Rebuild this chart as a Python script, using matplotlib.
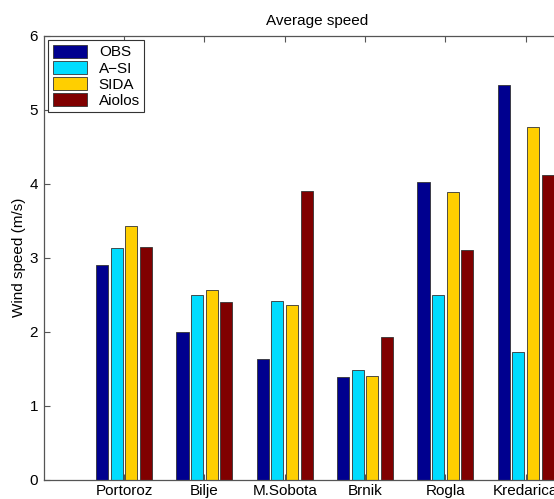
import numpy as np
import matplotlib
matplotlib.use("Agg")
import matplotlib.pyplot as plt

plt.rcParams['font.family'] = ['Liberation Sans', 'DejaVu Sans']

stations = ["Portoroz", "Bilje", "M.Sobota", "Brnik", "Rogla", "Kredarica"]
obs    = [2.90, 1.99, 1.63, 1.39, 4.02, 5.33]
a_si   = [3.13, 2.50, 2.41, 1.48, 2.50, 1.73]
sida   = [3.43, 2.57, 2.36, 1.40, 3.89, 4.76]
aiolos = [3.14, 2.40, 3.90, 1.93, 3.10, 4.12]

series_names = ["OBS", "A\u2212SI", "SIDA", "Aiolos"]
colors = ["#00008F", "#00DCFF", "#FFCF00", "#800000"]

fig = plt.figure(figsize=(5.54, 4.99), dpi=100)
# the axes run past the right edge of the figure, so the last group is clipped
ax = fig.add_axes([0.079, 0.0387, 0.986, 0.8898])

x = np.arange(1, len(stations) + 1)
step = 0.182
width = 0.15
for i, (vals, name, col) in enumerate(zip([obs, a_si, sida, aiolos], series_names, colors)):
    ax.bar(x + (i - 1.5) * step, vals, width, color=col, edgecolor="#333333",
           linewidth=0.6, label=name)

ax.set_xlim(0, 6.8)
ax.set_ylim(0, 6)
ax.set_xticks(x)
ax.set_xticklabels(stations, fontsize=11)
ax.set_yticks(range(0, 7))
ax.tick_params(axis='both', direction='in', length=4, width=0.8, color="#555555",
               top=True, right=True, labelsize=11)
ax.tick_params(axis='x', pad=3)
ax.tick_params(axis='y', pad=4)
for s in ax.spines.values():
    s.set_color("#555555")
    s.set_linewidth(0.9)

ax.set_title("Average speed", fontsize=11, pad=8)
ax.set_ylabel("Wind speed (m/s)", fontsize=11, labelpad=3)

leg = ax.legend(loc="upper left", fontsize=11, fancybox=False, framealpha=1,
                edgecolor="#333333", handlelength=2.2, handleheight=0.9,
                borderaxespad=0.3, labelspacing=0.1, handletextpad=0.8,
                borderpad=0.3)
leg.get_frame().set_linewidth(0.8)

fig.savefig("out.png", dpi=100)
